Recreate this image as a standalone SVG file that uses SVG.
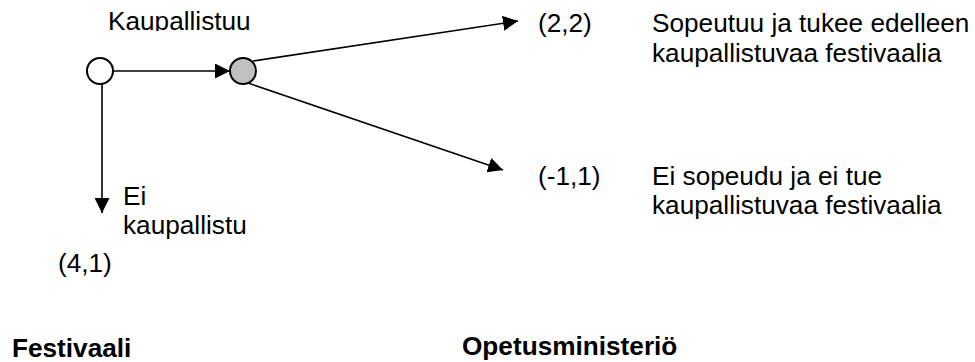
<svg xmlns="http://www.w3.org/2000/svg" width="975" height="362" viewBox="0 0 975 362">
<style>
text{font-family:"Liberation Sans",Arial,sans-serif;font-size:26.2px;fill:#000}
.b{font-weight:bold}
.c{stroke:#000;stroke-width:2}
.e{stroke:#000;stroke-width:1.6;fill:none}
</style>
<defs>
<marker id="ah" markerUnits="userSpaceOnUse" markerWidth="16" markerHeight="15" refX="15" refY="7.5" orient="auto" viewBox="0 0 16 15">
<path d="M0,0 L15,7.5 L0,15 z" fill="#000"/>
</marker>
<clipPath id="clip1"><rect x="0" y="0" width="975" height="31"/></clipPath>
</defs>
<rect width="975" height="362" fill="#fff"/>
<g id="connectors">
<line class="e" x1="113" y1="71" x2="230" y2="71" marker-end="url(#ah)"/>
<line class="e" x1="102" y1="83" x2="102" y2="213" marker-end="url(#ah)"/>
<line class="e" x1="253" y1="61" x2="518" y2="21" marker-end="url(#ah)"/>
<line class="e" x1="248" y1="83" x2="503" y2="170" marker-end="url(#ah)"/>
</g>
<g id="node-start">
<circle class="c" cx="100" cy="71" r="13" fill="#fff"/>
</g>
<g id="node-decision">
<circle class="c" cx="243" cy="71" r="13" fill="#c0c0c0"/>
</g>
<g id="label-kaupallistuu">
<text x="108" y="30" clip-path="url(#clip1)">Kaupallistuu</text>
</g>
<g id="label-ei">
<text x="123" y="205">Ei</text>
<text x="123" y="234">kaupallistu</text>
</g>
<g id="payoff-41">
<text x="58" y="272">(4,1)</text>
</g>
<g id="payoff-22">
<text x="538" y="32">(2,2)</text>
<text x="652" y="32">Sopeutuu ja tukee edelleen</text>
<text x="652" y="62">kaupallistuvaa festivaalia</text>
</g>
<g id="payoff-m11">
<text x="538" y="185">(-1,1)</text>
<text x="652" y="185">Ei sopeudu ja ei tue</text>
<text x="652" y="214">kaupallistuvaa festivaalia</text>
</g>
<g id="players">
<text class="b" x="12" y="357">Festivaali</text>
<text class="b" x="462" y="355">Opetusministeriö</text>
</g>
</svg>
